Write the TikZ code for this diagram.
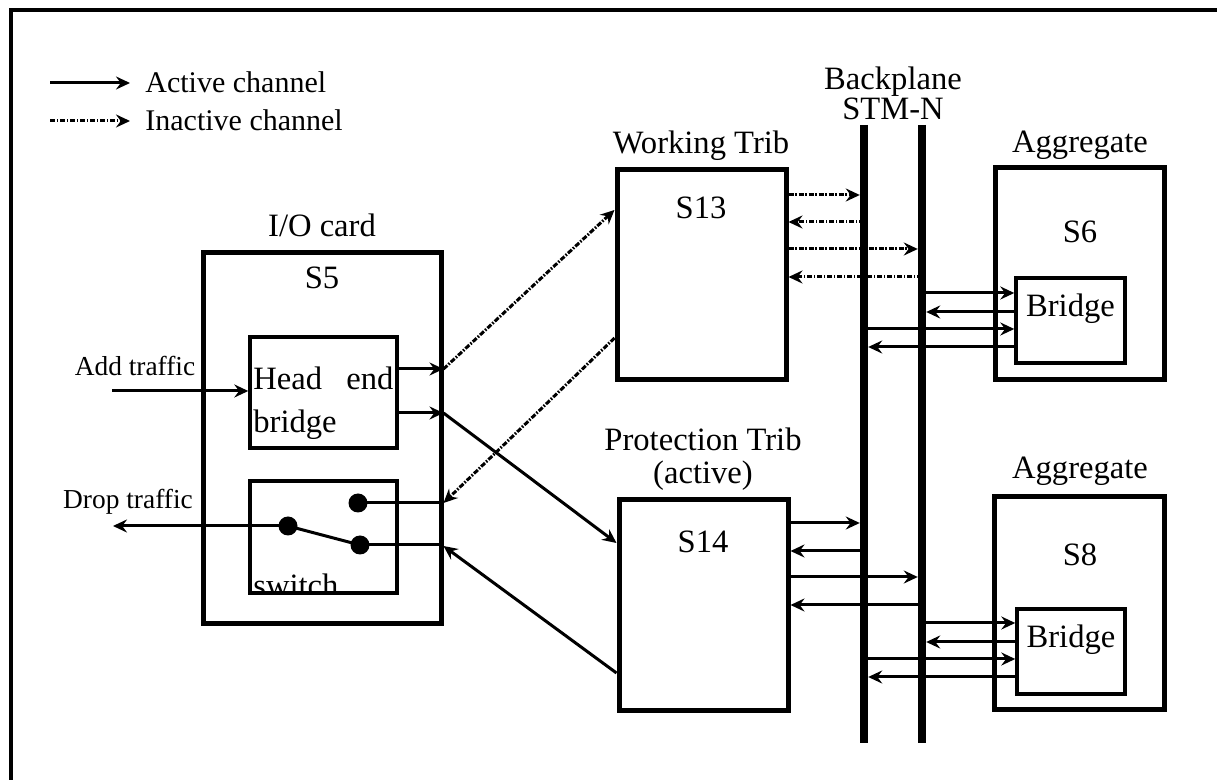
\documentclass[tikz,border=0pt]{standalone}
\usepackage{fontspec}
\setmainfont{Liberation Serif}
\usetikzlibrary{positioning,arrows.meta,fit}

\begin{document}
\begin{tikzpicture}[
    x=0.5pt, y=-0.5pt,
    line join=miter,
    frame/.style={line width=2.2pt},
    card/.style={draw, line width=2.5pt, inner sep=0pt},       % outer cards
    subcard/.style={draw, line width=1.7pt, inner sep=0pt},    % blocks on a card
    bus/.style={line width=4.2pt},                             % backplane bar
    wire/.style={line width=1.5pt},
    act/.style={wire, -{Stealth[length=7pt, width=6.5pt, inset=2.4pt]}},
    inact/.style={act, dash pattern=on 2.6pt off 0.8pt on 0.8pt off 0.8pt},
    knob/.style={circle, fill, inner sep=0pt, minimum size=9.5pt},
    lbl/.style={font=\fontsize{16.3}{19}\selectfont, inner sep=0pt},
    leg/.style={font=\fontsize{15}{18}\selectfont, inner sep=0pt},
    side/.style={font=\fontsize{13.7}{16}\selectfont, inner sep=0pt},
  ]
  \useasboundingbox (0,0) rectangle (1217,780);

  % ---- box corners (pixel grid of the reference) ----
  \coordinate (IOa)  at (203,253);  \coordinate (IOb)  at (441,624);   % I/O card
  \coordinate (HEa)  at (250,337);  \coordinate (HEb)  at (397,448);   % head end bridge
  \coordinate (SWa)  at (250,481);  \coordinate (SWb)  at (397,593);   % switch
  \coordinate (WTa)  at (617,170);  \coordinate (WTb)  at (786,380);   % working trib
  \coordinate (PTa)  at (619,500);  \coordinate (PTb)  at (788,711);   % protection trib
  \coordinate (AG1a) at (995,168);  \coordinate (AG1b) at (1164,380);  % aggregate S6
  \coordinate (AG2a) at (994,497);  \coordinate (AG2b) at (1164,710);  % aggregate S8
  \coordinate (BR1a) at (1016,278); \coordinate (BR1b) at (1125,363);  % bridge in S6
  \coordinate (BR2a) at (1017,609); \coordinate (BR2b) at (1125,694);  % bridge in S8
  \coordinate (B1t)  at (864,125);  \coordinate (B1b)  at (864,743);   % backplane bar 1
  \coordinate (B2t)  at (922,125);  \coordinate (B2b)  at (922,743);   % backplane bar 2
  \coordinate (ADD)  at (112,391);                                     % add traffic in
  \coordinate (DROP) at (113,526);                                     % drop traffic out

  % ---- frame -------------------------------------------------
  \coordinate (FRbl) at (11,780); \coordinate (FRtl) at (11,10); \coordinate (FRtr) at (1217,10);
  \draw[frame] (FRbl) -- (FRtl) -- (FRtr);

  % ---- cards -------------------------------------------------
  \node[card, fit=(IOa)(IOb)] (IO) {};
  \node[subcard, fit=(HEa)(HEb)] (HE) {};
  \node[subcard, fit=(SWa)(SWb)] (SW) {};
  \node[card, fit=(WTa)(WTb)] (WT) {};
  \node[card, fit=(PTa)(PTb)] (PT) {};
  \node[card, fit=(AG1a)(AG1b)] (AG1) {};
  \node[card, fit=(AG2a)(AG2b)] (AG2) {};
  \node[subcard, lbl, fit=(BR1a)(BR1b)] (BR1) {Bridge};
  \node[subcard, lbl, fit=(BR2a)(BR2b)] (BR2) {Bridge};
  \draw[bus] (B1t) -- (B1b);
  \draw[bus] (B2t) -- (B2b);

  % ---- texts on the cards ------------------------------------
  \node[lbl, anchor=north west, text width=70pt, align=left,
        font=\fontsize{16.3}{21.5}\selectfont] (HEtxt) at (253,366) {Head\hfill end\\bridge};
  \begin{scope}
    \clip (SWa) rectangle (SWb);
    \node[lbl, anchor=base west] (SWtxt) at (253,597) {switch};
  \end{scope}
  \node[lbl, anchor=base] (IOlab) at (322,237) {I/O card};
  \node[lbl, anchor=base] (S5)    at (322,289) {S5};
  \node[lbl, anchor=base] (WTlab) at (701,154) {Working Trib};
  \node[lbl, anchor=base] (S13)   at (701,219) {S13};
  \node[lbl, anchor=south, align=center, font=\fontsize{16.3}{16.5}\selectfont]
        (PTlab) at (703,491) {Protection Trib\\(active)};
  \node[lbl, anchor=base] (S14)   at (703,553) {S14};
  \node[lbl, anchor=south, align=center, font=\fontsize{16.3}{15}\selectfont]
        (BPlab) at (893,120) {Backplane\\STM-N};
  \node[lbl, anchor=base] (AG1lab) at (1080,153) {Aggregate};
  \node[lbl, anchor=base] (S6)     at (1080,243) {S6};
  \node[lbl, anchor=base] (AG2lab) at (1080,479) {Aggregate};
  \node[lbl, anchor=base] (S8)     at (1080,566) {S8};
  \node[side, anchor=base] (ADDlab)  at (135,376) {Add traffic};
  \node[side, anchor=base] (DROPlab) at (128,509) {Drop traffic};

  % ---- I/O card ----------------------------------------------
  \node[knob] (K1) at (358,503) {};
  \node[knob] (K2) at (288,526) {};
  \node[knob] (K3) at (360,545) {};
  \draw[wire] (K1.center) -- (K1 -| IO.east);
  \draw[wire] (K3.center) -- (K3 -| IO.east);
  \draw[wire] (K2.center) -- (K3.center);
  \draw[act]  (K2.center) -- (DROP);
  \draw[act]  (ADD) -- (ADD -| HE.west);
  \draw[act]  (HE.east |- 0,369) -- (IO.east |- 0,369);
  \draw[act]  (HE.east |- 0,413) -- (IO.east |- 0,413);

  % ---- I/O card to tribs -------------------------------------
  \draw[inact] (IO.east |- 0,369) -- (WT.west |- 0,210);
  \draw[act]   (IO.east |- 0,413) -- (PT.west |- 0,543);
  \draw[inact] (WT.west |- 0,338) -- (IO.east |- 0,503);
  \draw[act]   (PT.west |- 0,673) -- (IO.east |- 0,546);

  % ---- tribs to backplane ------------------------------------
  \foreach \yy/\bb in {195/B1t, 249/B2t}
    \draw[inact, shorten >=2.1pt] (WT.east |- 0,\yy) -- (\bb |- 0,\yy);
  \foreach \yy/\bb in {222/B1t, 277/B2t}
    \draw[inact] (\bb |- 0,\yy) -- (WT.east |- 0,\yy);
  \foreach \yy/\bb in {523/B1t, 577/B2t}
    \draw[act, shorten >=2.1pt] (PT.east |- 0,\yy) -- (\bb |- 0,\yy);
  \foreach \yy/\bb in {551/B1t, 605/B2t}
    \draw[act] (\bb |- 0,\yy) -- (PT.east |- 0,\yy);

  % ---- backplane to bridges ----------------------------------
  \foreach \yy/\bb/\br in {293/B2t/BR1, 329/B1t/BR1, 623/B2t/BR2, 659/B1t/BR2}
    \draw[act] (\bb |- 0,\yy) -- (\br.west |- 0,\yy);
  \foreach \yy/\bb/\br in {312/B2t/BR1, 347/B1t/BR1, 642/B2t/BR2, 677/B1t/BR2}
    \draw[act, shorten >=2.1pt] (\br.west |- 0,\yy) -- (\bb |- 0,\yy);

  % ---- legend ------------------------------------------------
  \coordinate (LG1a) at (50,83);  \coordinate (LG1b) at (130,83);
  \coordinate (LG2a) at (50,121); \coordinate (LG2b) at (130,121);
  \draw[act]   (LG1a) -- (LG1b);
  \draw[inact] (LG2a) -- (LG2b);
  \node[leg, anchor=base west] (LG1t) at (145,93)  {Active channel};
  \node[leg, anchor=base west] (LG2t) at (145,131) {Inactive channel};

\end{tikzpicture}
\end{document}
